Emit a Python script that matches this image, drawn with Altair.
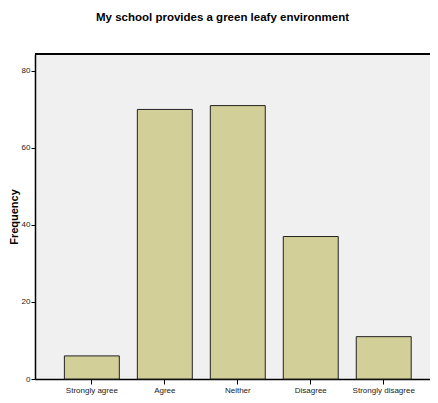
import altair as alt
import pandas as pd

categories = ["Strongly agree", "Agree", "Neither", "Disagree", "Strongly disagree"]
frequencies = [6, 70, 71, 37, 11]

df = pd.DataFrame({"category": categories, "frequency": frequencies})

W = 395
H = 325

bars = alt.Chart(df).mark_bar(
    fill="#d3cf98", stroke="#222222", strokeWidth=1
).encode(
    x=alt.X("category:N", sort=categories, title=None,
            scale=alt.Scale(paddingInner=0.247, paddingOuter=0.33, align=0.61),
            axis=alt.Axis(labelAngle=0, labelFontSize=8, labelColor="#222222",
                          labelFont="Liberation Sans", domainColor="#000000",
                          domainWidth=1.5, tickColor="#000000", tickSize=5,
                          labelPadding=2)),
    y=alt.Y("frequency:Q", title="Frequency",
            scale=alt.Scale(domain=[0, 84.4], nice=False),
            axis=alt.Axis(values=[0, 20, 40, 60, 80], grid=False, labelFontSize=8,
                          labelColor="#222222", labelFont="Liberation Sans",
                          domainColor="#000000", domainWidth=1.5,
                          tickColor="#000000", tickSize=4, labelPadding=1,
                          titleFontSize=11,
                          titleFont="Liberation Sans", titleFontWeight="bold",
                          titleColor="#000000", titlePadding=2)),
)

top_line = alt.Chart(df).mark_rule(color="#000000", strokeWidth=1.5).encode(
    x=alt.value(0), x2=alt.value(W), y=alt.value(0)
)

chart = alt.layer(bars, top_line).properties(
    width=W, height=H,
    title=alt.TitleParams("My school provides a green leafy environment",
                          font="Liberation Sans", fontSize=11.5, fontWeight="bold",
                          color="#000000", anchor="middle", dx=-10, offset=30),
    autosize=alt.AutoSizeParams(type="none"),
    padding={"left": 27, "top": 46, "right": 0, "bottom": 16},
).configure(
    background="white", view=alt.ViewConfig(fill="#f0f0f0", stroke=None)
)

chart.save("out.html", embed_options={"renderer": "svg", "actions": False})
